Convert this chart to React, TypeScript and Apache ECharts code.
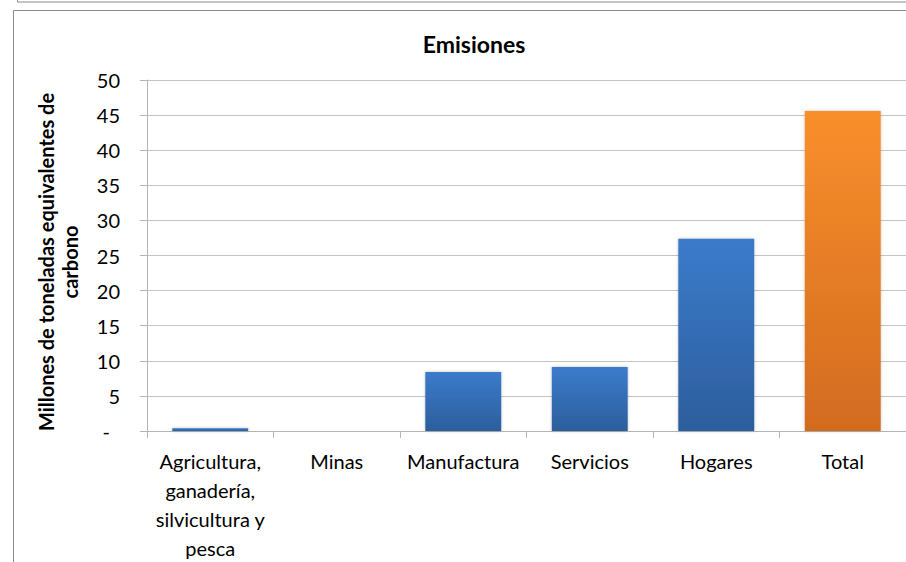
import React, { useEffect, useRef } from "react";
import * as echarts from "echarts";

// Emisiones por sector (millones de toneladas equivalentes de carbono)
const categories = [
  "Agricultura,\nganadería,\nsilvicultura y\npesca",
  "Minas",
  "Manufactura",
  "Servicios",
  "Hogares",
  "Total",
];
const values = [0.4, 0, 8.4, 9.1, 27.4, 45.6];
const totalIndex = 5;

const yTicks = { min: 0, max: 50, interval: 5 };

const FONT = "Lato, 'Open Sans', sans-serif";

const blueFill = new echarts.graphic.LinearGradient(0, 0, 0, 1, [
  { offset: 0, color: "#3b7bcb" },
  { offset: 1, color: "#2c5e9c" },
]);
const orangeFill = new echarts.graphic.LinearGradient(0, 0, 0, 1, [
  { offset: 0, color: "#f98f2c" },
  { offset: 1, color: "#d26b1f" },
]);

export default function App() {
  const ref = useRef<HTMLDivElement>(null);

  useEffect(() => {
    if (!ref.current) return;
    const chart = echarts.init(ref.current, null, { renderer: "svg" });
    chart.setOption({
      animation: false,
      backgroundColor: "#ffffff",
      title: {
        text: "Emisiones",
        left: 469,
        top: 27,
        textAlign: "center",
        textStyle: { fontFamily: FONT, fontSize: 23, fontWeight: "bold", color: "#000" },
      },
      graphic: [
        {
          type: "rect",
          shape: { x: 17.5, y: -20, width: 1000, height: 22 },
          style: { fill: "none", stroke: "#8a8a8a", lineWidth: 1 },
          silent: true,
        },
        {
          type: "rect",
          shape: { x: 13.5, y: 10.5, width: 1000, height: 700 },
          style: { fill: "none", stroke: "#8a8a8a", lineWidth: 1 },
          silent: true,
        },
        {
          type: "text",
          x: 58,
          y: 262,
          rotation: Math.PI / 2,
          style: {
            text: "Millones de toneladas equivalentes de\ncarbono",
            fontFamily: FONT,
            fontSize: 20,
            fontWeight: "bold",
            fill: "#000",
            align: "center",
            verticalAlign: "middle",
            lineHeight: 24,
          },
        },
      ],
      grid: { left: 147, right: 0, top: 80, bottom: 129 },
      xAxis: {
        type: "category",
        data: categories,
        axisLine: { lineStyle: { color: "#b5b5b5" } },
        axisTick: { show: true, length: 7, lineStyle: { color: "#b5b5b5" } },
        axisLabel: {
          fontFamily: FONT,
          fontSize: 20,
          color: "#000",
          lineHeight: 29,
          margin: 15,
          interval: 0,
        },
      },
      yAxis: {
        type: "value",
        min: yTicks.min,
        max: yTicks.max,
        interval: yTicks.interval,
        axisLine: { show: true, lineStyle: { color: "#b5b5b5" } },
        axisTick: { show: true, length: 7, lineStyle: { color: "#b5b5b5" } },
        splitLine: { lineStyle: { color: "#c4c4c4" } },
        axisLabel: {
          fontFamily: FONT,
          fontSize: 20,
          color: "#000",
          margin: 27,
          formatter: (v: number) => (v === 0 ? "{z|-}" : String(v)),
          rich: { z: { fontFamily: FONT, fontSize: 20, color: "#000", padding: [0, 10, 0, 0] } },
        },
      },
      series: [
        {
          type: "bar",
          barWidth: "60%",
          data: values.map((v, i) => ({
            value: v,
            itemStyle: {
              color: i === totalIndex ? orangeFill : blueFill,
              shadowColor: "rgba(0,0,0,0.25)",
              shadowBlur: 3,
            },
          })),
        },
      ],
    });
    return () => chart.dispose();
  }, []);

  return (
    <div
      ref={ref}
      style={{ position: "fixed", left: 0, top: 0, width: 906, height: 562 }}
    />
  );
}
